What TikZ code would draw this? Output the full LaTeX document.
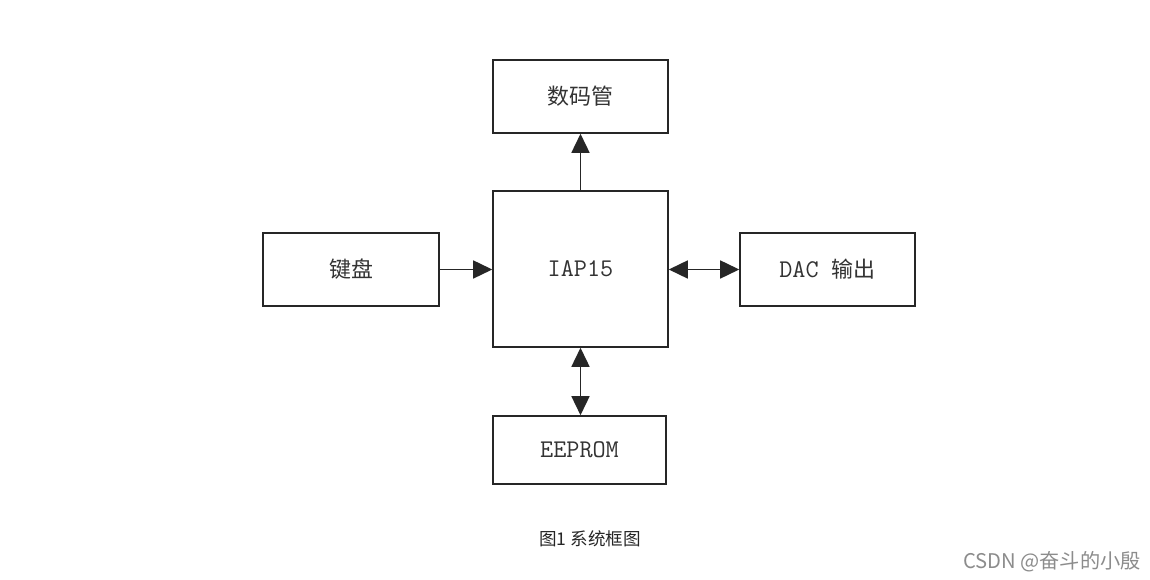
\documentclass[tikz,border=0pt]{standalone}
\usepackage{fontspec}
\newfontfamily\cjk{Noto Sans CJK SC}
\newfontfamily\capfont{Noto Sans CJK SC}
\usetikzlibrary{arrows.meta}
\begin{document}
\begin{tikzpicture}[x=0.02cm,y=-0.02cm,
  blk/.style={draw=black!85,line width=0.9pt,inner sep=0pt,font=\ttfamily\fontsize{14.5}{16}\selectfont,text=black!80},
  conn/.style={line width=0.85pt,draw=black!85,-{Triangle[length=0.38cm,width=0.36cm]}},
  bconn/.style={line width=0.85pt,draw=black!85,{Triangle[length=0.38cm,width=0.36cm]}-{Triangle[length=0.38cm,width=0.36cm]}}]
\useasboundingbox[fill=white] (0,0) rectangle (1150,580);
\node[blk,minimum width=3.5cm,minimum height=1.46cm] (smg) at (580.5,96.5) {\cjk\fontsize{12.5}{14}\selectfont 数码管};
\node[blk,minimum width=3.5cm,minimum height=3.12cm] (mcu) at (580.5,269) {IAP15};
\node[blk,minimum width=3.52cm,minimum height=1.46cm] (kb) at (351,269.5) {\cjk\fontsize{12.5}{14}\selectfont 键盘};
\node[blk,minimum width=3.5cm,minimum height=1.46cm] (dac) at (827.5,269.5) {DAC {\cjk\fontsize{12.5}{14}\selectfont 输出}};
\node[blk,minimum width=3.46cm,minimum height=1.36cm] (ee) at (579.5,450) {EEPROM};
\draw[conn] (mcu.north) -- (smg.south);
\draw[conn] (kb.east) -- (kb.east -| mcu.west);
\draw[bconn] (mcu.east |- dac.west) -- (dac.west);
\draw[bconn] (mcu.south) -- (mcu.south |- ee.north);
\node[font=\capfont\fontsize{10}{12}\selectfont,text=black!85] (cap) at (590,539) {图1 系统框图};
\node[font=\capfont\fontsize{11.5}{13}\selectfont,text=black!45] (wm) at (1052,562) {CSDN @奋斗的小殷};
\end{tikzpicture}
\end{document}
